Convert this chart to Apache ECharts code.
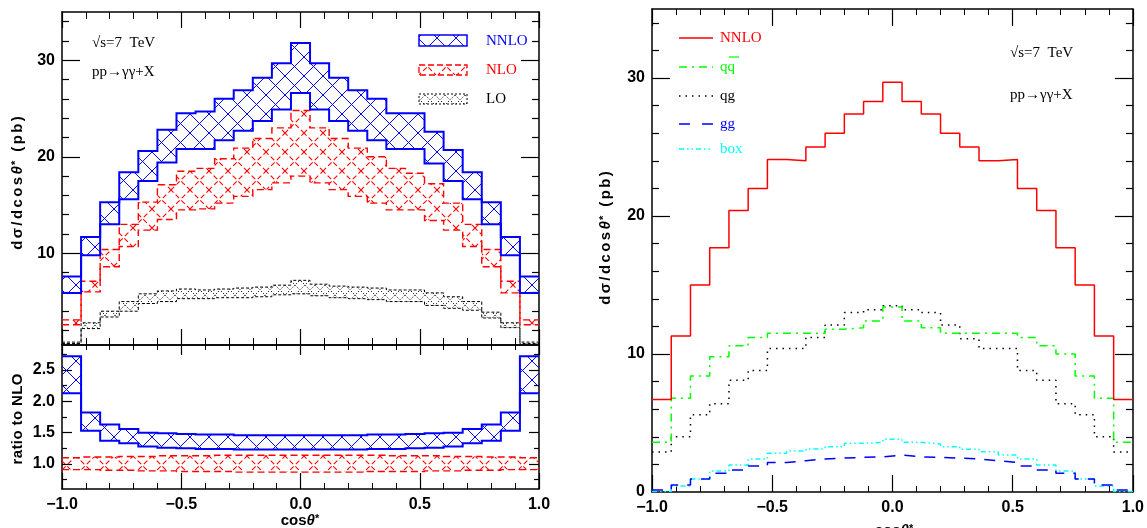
<!DOCTYPE html>
<html>
<head>
<meta charset="utf-8">
<script src="https://cdn.jsdelivr.net/npm/echarts@6/dist/echarts.min.js"></script>
<style>
  html, body { margin: 0; padding: 0; background: #fff; }
  #chart { width: 1147px; height: 528px; }
</style>
</head>
<body>
<div id="chart"></div>
<script>
// Bin edges in cos(theta*), 25 bins of width 0.08
const binEdges = [-1.0, -0.92, -0.84, -0.76, -0.68, -0.60, -0.52, -0.44, -0.36, -0.28, -0.20, -0.12, -0.04,
                  0.04, 0.12, 0.20, 0.28, 0.36, 0.44, 0.52, 0.60, 0.68, 0.76, 0.84, 0.92, 1.0];

// Scale-variation bands, d sigma / d cos theta* (pb)
const nnloHi = [7.6, 11.7, 15.3, 18.4, 20.6, 22.8, 24.5, 24.7, 26.0, 26.9, 28.2, 29.7, 31.8, 29.7, 28.2, 26.9, 26.0, 24.5, 24.5, 22.6, 20.7, 18.4, 15.3, 11.7, 7.6];
const nnloLo = [5.9, 9.8, 13.0, 15.6, 17.5, 19.4, 20.8, 20.8, 21.7, 22.7, 23.7, 24.9, 26.6, 24.9, 23.7, 22.7, 21.7, 20.8, 20.8, 19.3, 17.5, 15.6, 13.0, 9.8, 5.9];
const nloHi  = [3.1, 7.1, 10.4, 13.0, 15.3, 17.1, 18.5, 18.8, 19.8, 20.9, 21.9, 23.0, 24.8, 23.0, 21.9, 20.9, 20.0, 18.8, 18.3, 17.2, 15.2, 13.0, 10.4, 7.1, 3.1];
const nloLo  = [2.6, 6.0, 8.6, 10.7, 12.4, 13.5, 14.5, 14.6, 15.2, 15.9, 16.6, 17.3, 18.0, 17.3, 16.6, 15.9, 15.2, 14.5, 14.5, 13.4, 12.4, 10.7, 8.6, 5.9, 2.6];
const loHi   = [0.8, 2.8, 4.0, 5.0, 5.8, 6.1, 6.3, 6.2, 6.3, 6.4, 6.5, 6.7, 7.2, 6.8, 6.6, 6.5, 6.4, 6.2, 6.2, 5.9, 5.5, 5.0, 3.9, 2.8, 0.8];
const loLo   = [0.65, 2.2, 3.4, 4.0, 4.8, 5.0, 5.3, 5.3, 5.4, 5.4, 5.5, 5.7, 5.8, 5.6, 5.4, 5.3, 5.2, 5.0, 5.0, 4.6, 4.3, 4.1, 3.3, 2.3, 0.65];

// Ratio to NLO
const ratioNnloHi = [2.72, 1.82, 1.63, 1.56, 1.50, 1.49, 1.48, 1.47, 1.47, 1.46, 1.46, 1.46, 1.46, 1.46, 1.46, 1.46, 1.47, 1.47, 1.48, 1.49, 1.50, 1.56, 1.63, 1.82, 2.72];
const ratioNnloLo = [2.13, 1.53, 1.37, 1.33, 1.28, 1.26, 1.25, 1.24, 1.24, 1.23, 1.23, 1.23, 1.23, 1.23, 1.23, 1.23, 1.24, 1.24, 1.25, 1.26, 1.28, 1.33, 1.37, 1.53, 2.13];
const ratioNloHi  = [1.10, 1.11, 1.11, 1.12, 1.12, 1.13, 1.13, 1.13, 1.14, 1.14, 1.14, 1.14, 1.14, 1.14, 1.14, 1.14, 1.14, 1.13, 1.13, 1.13, 1.12, 1.12, 1.11, 1.11, 1.10];
const ratioNloLo  = [0.91, 0.91, 0.90, 0.90, 0.89, 0.89, 0.88, 0.88, 0.88, 0.87, 0.87, 0.87, 0.87, 0.87, 0.87, 0.87, 0.88, 0.88, 0.88, 0.89, 0.89, 0.90, 0.90, 0.91, 0.91];

// Partonic channels at NNLO
const chNNLO  = [6.7, 11.3, 15.0, 17.7, 20.4, 22.0, 24.1, 24.0, 25.0, 26.0, 27.4, 28.3, 29.7, 28.3, 27.4, 26.0, 25.0, 24.0, 24.1, 22.0, 20.4, 17.7, 15.0, 11.3, 6.7];
const chQQbar = [3.6, 6.8, 8.4, 9.8, 10.6, 11.2, 11.5, 11.5, 11.5, 11.8, 11.9, 12.4, 13.4, 12.4, 11.9, 11.5, 11.5, 11.5, 11.5, 11.2, 10.6, 10.0, 8.4, 6.8, 3.6];
const chQG    = [2.9, 4.0, 5.6, 6.4, 8.1, 8.8, 10.4, 10.4, 11.2, 12.1, 13.0, 13.2, 13.5, 13.2, 13.0, 12.1, 11.1, 10.4, 10.4, 8.8, 8.1, 6.4, 5.6, 4.0, 2.9];
const chGG    = [0.15, 0.5, 0.95, 1.35, 1.6, 1.88, 2.13, 2.27, 2.39, 2.46, 2.51, 2.55, 2.68, 2.55, 2.51, 2.46, 2.39, 2.27, 2.13, 1.88, 1.6, 1.35, 0.95, 0.5, 0.15];
const chBox   = [0.03, 0.43, 0.94, 1.52, 1.96, 2.39, 2.8, 2.97, 3.12, 3.28, 3.53, 3.6, 3.82, 3.6, 3.48, 3.28, 3.09, 2.92, 2.68, 2.39, 1.96, 1.52, 0.94, 0.43, 0.03];

// Tick positions and labels
const sigmaMajorTicks = [10, 20, 30];
const sigmaMinorTicks = [2, 4, 6, 8, 12, 14, 16, 18, 22, 24, 26, 28, 32, 34];
const sigmaLabelsLeft = [10, 20, 30];
const sigmaLabelsRight = [0, 10, 20, 30];
const ratioMajorTicks = [1.0, 1.5, 2.0, 2.5];
const ratioMinorTicks = [0.75, 1.25, 1.75, 2.25, 2.75];

const SANS = "'Liberation Sans', Arial, sans-serif";
const SERIF = "'Liberation Serif', 'DejaVu Serif', serif";

// Cross-hatch tiles for the filled bands
function hatch(size, color, dash, lw) {
  const c = document.createElement('canvas');
  c.width = size; c.height = size;
  const g = c.getContext('2d');
  g.strokeStyle = color; g.lineWidth = lw; g.setLineDash(dash);
  g.beginPath();
  g.moveTo(-1, -1); g.lineTo(size + 1, size + 1);
  g.moveTo(size + 1, -1); g.lineTo(-1, size + 1);
  g.stroke();
  return { image: c, repeat: 'repeat' };
}
const patNNLO = hatch(19, '#0000ff', [], 1);
const patNLO = hatch(19, '#ff0000', [5, 3], 1.1);
const patLO = hatch(10, '#000000', [1.2, 1.8], 1);

function band(lo, hi, pat, color, dash, width, xi, yi) {
  return {
    type: 'custom', xAxisIndex: xi, yAxisIndex: yi, silent: true, clip: true,
    data: [[binEdges[0], lo[0]]],
    renderItem: function (params, api) {
      const top = [], bot = [];
      for (let i = 0; i < lo.length; i++) {
        top.push(api.coord([binEdges[i], hi[i]]), api.coord([binEdges[i + 1], hi[i]]));
        bot.push(api.coord([binEdges[i], lo[i]]), api.coord([binEdges[i + 1], lo[i]]));
      }
      const ring = top.concat(bot.slice().reverse());
      return {
        type: 'group', children: [
          { type: 'polygon', shape: { points: ring }, style: { fill: pat, stroke: null } },
          { type: 'polyline', shape: { points: top }, style: { fill: null, stroke: color, lineWidth: width, lineDash: dash } },
          { type: 'polyline', shape: { points: bot }, style: { fill: null, stroke: color, lineWidth: width, lineDash: dash } }
        ]
      };
    }
  };
}

function stepData(vals) {
  const d = vals.map((v, i) => [binEdges[i], v]);
  d.push([binEdges[binEdges.length - 1], vals[vals.length - 1]]);
  return d;
}
function stepLine(name, vals, color, dash) {
  return {
    type: 'line', name: name, xAxisIndex: 4, yAxisIndex: 8, step: 'end', symbol: 'none',
    data: stepData(vals), silent: true,
    lineStyle: { color: color, width: 1.5, type: dash }
  };
}

const minus = v => v.toFixed(1).replace('-', '\u2212');

function xAx(grid, pos, showLabel, major, minor) {
  return {
    type: 'value', gridIndex: grid, position: pos, min: -1, max: 1, interval: 0.5,
    axisLine: { show: true, onZero: false, lineStyle: { color: '#000', width: 1.5 } },
    axisTick: { show: true, inside: true, length: major, lineStyle: { color: '#000', width: 1.2 } },
    minorTick: { show: true, splitNumber: 5, length: minor, lineStyle: { color: '#000', width: 1 } },
    axisLabel: { show: showLabel, margin: 8, fontSize: 16, fontWeight: 'bold', fontFamily: SANS, color: '#000', formatter: minus },
    splitLine: { show: false }, minorSplitLine: { show: false }
  };
}
function yAx(grid, pos, min, max, ticks, len, labels, fmt, showLine) {
  return {
    type: 'value', gridIndex: grid, position: pos, min: min, max: max,
    axisLine: { show: showLine, onZero: false, lineStyle: { color: '#000', width: 1.5 } },
    axisTick: { show: true, inside: true, length: len, customValues: ticks, lineStyle: { color: '#000', width: 1.2 } },
    axisLabel: labels ? { show: true, customValues: labels, margin: 7, fontSize: 16, fontWeight: 'bold', fontFamily: SANS, color: '#000', formatter: fmt }
                      : { show: false },
    splitLine: { show: false }
  };
}
const intFmt = v => String(Math.round(v));
const oneDec = v => v.toFixed(1);

// Axis titles, one rich token per glyph so the spacing can be opened up
function spaced(str) {
  return str.split('').map(ch => ch === 'θ' ? '{i|θ}' : (ch === '*' ? '{s|*}' : '{c|' + ch + '}')).join('');
}
function richSet(pad, size) {
  return {
    c: { fontSize: size, fontFamily: SANS, fontWeight: 'bold', color: '#000', padding: [0, pad] },
    i: { fontSize: size, fontFamily: SANS, fontWeight: 'bold', fontStyle: 'italic', color: '#000', padding: [0, pad] },
    s: { fontSize: 11, fontFamily: SANS, fontWeight: 'bold', color: '#000', verticalAlign: 'top', padding: [0, pad, 0, 0] }
  };
}
function title(x, y, str, pad, size, rot) {
  return {
    type: 'text', x: x, y: y, rotation: rot, silent: true,
    style: { text: spaced(str), rich: richSet(pad, size), align: 'center', verticalAlign: 'middle' }
  };
}
function label(x, y, text, color, size) {
  return { type: 'text', x: x, y: y, silent: true,
    style: { text: text, fill: color, font: size + 'px ' + SERIF, align: 'left', verticalAlign: 'middle' } };
}

const graphics = [
  title(18, 183, 'dσ/dcosθ* (pb)', 1.2, 15, Math.PI / 2),
  title(18, 419, 'ratio to NLO', 0.2, 15, Math.PI / 2),
  title(300, 521, 'cosθ*', 0, 15, 0),
  title(606, 238, 'dσ/dcosθ* (pb)', 1.2, 15, Math.PI / 2),
  title(894, 531, 'cosθ*', 0, 15, 0),

  label(92, 43, '\u221As=7  TeV', '#000', 15),
  label(92, 72, 'pp\u2192\u03B3\u03B3+X', '#000', 15),
  label(1010, 53, '\u221As=7  TeV', '#000', 15),
  label(1010, 95, 'pp\u2192\u03B3\u03B3+X', '#000', 15),

  // band legend
  { type: 'rect', silent: true, shape: { x: 419, y: 35, width: 48, height: 11 }, style: { fill: patNNLO, stroke: '#0000ff', lineWidth: 1.5 } },
  { type: 'rect', silent: true, shape: { x: 419, y: 65, width: 48, height: 10 }, style: { fill: patNLO, stroke: '#ff0000', lineWidth: 1.3, lineDash: [6, 3] } },
  { type: 'rect', silent: true, shape: { x: 419, y: 94, width: 48, height: 10 }, style: { fill: patLO, stroke: '#000', lineWidth: 1, lineDash: [2, 2] } },
  label(486, 41, 'NNLO', '#0000ff', 15),
  label(486, 70, 'NLO', '#ff0000', 15),
  label(486, 99, 'LO', '#000', 15),

  // channel legend
  { type: 'line', silent: true, shape: { x1: 679, y1: 38, x2: 713, y2: 38 }, style: { stroke: '#ff0000', lineWidth: 1.5 } },
  { type: 'line', silent: true, shape: { x1: 679, y1: 67, x2: 713, y2: 67 }, style: { stroke: '#00ff00', lineWidth: 1.5, lineDash: [8, 5, 2, 5] } },
  { type: 'line', silent: true, shape: { x1: 679, y1: 96, x2: 713, y2: 96 }, style: { stroke: '#000', lineWidth: 1.5, lineDash: [1.5, 5] } },
  { type: 'line', silent: true, shape: { x1: 679, y1: 124, x2: 713, y2: 124 }, style: { stroke: '#0000ff', lineWidth: 1.5, lineDash: [11, 12] } },
  { type: 'line', silent: true, shape: { x1: 679, y1: 149, x2: 713, y2: 149 }, style: { stroke: '#00ffff', lineWidth: 1.5, lineDash: [5, 3, 1.5, 3, 1.5, 3] } },
  label(720, 38, 'NNLO', '#ff0000', 15),
  label(720, 67, 'qq', '#00ff00', 15),
  { type: 'line', silent: true, shape: { x1: 729, y1: 57, x2: 739, y2: 57 }, style: { stroke: '#00ff00', lineWidth: 1.2 } },
  label(720, 96, 'qg', '#000', 15),
  label(720, 124, 'gg', '#0000ff', 15),
  label(720, 149, 'box', '#00ffff', 15)
];

const option = {
  animation: false,
  backgroundColor: '#fff',
  grid: [
    { left: 62, top: 12, width: 477, height: 333 },
    { left: 62, top: 345, width: 477, height: 144 },
    { left: 652, top: 9, width: 484, height: 483 }
  ],
  xAxis: [
    xAx(0, 'bottom', false, 16, 7), xAx(0, 'top', false, 16, 7),
    xAx(1, 'bottom', true, 16, 6), xAx(1, 'top', false, 10, 5),
    xAx(2, 'bottom', true, 17, 6), xAx(2, 'top', false, 17, 6)
  ],
  yAxis: [
    yAx(0, 'left', 0.5, 35, sigmaMajorTicks, 18, sigmaLabelsLeft, intFmt, true),
    yAx(0, 'left', 0.5, 35, sigmaMinorTicks, 7, null, null, false),
    yAx(0, 'right', 0.5, 35, sigmaMajorTicks, 18, null, null, true),
    yAx(0, 'right', 0.5, 35, sigmaMinorTicks, 7, null, null, false),

    yAx(1, 'left', 0.6, 2.9, ratioMajorTicks, 10, ratioMajorTicks, oneDec, true),
    yAx(1, 'left', 0.6, 2.9, ratioMinorTicks, 5, null, null, false),
    yAx(1, 'right', 0.6, 2.9, ratioMajorTicks, 10, null, null, true),
    yAx(1, 'right', 0.6, 2.9, ratioMinorTicks, 5, null, null, false),

    yAx(2, 'left', 0, 35, sigmaMajorTicks, 18, sigmaLabelsRight, intFmt, true),
    yAx(2, 'left', 0, 35, sigmaMinorTicks, 7, null, null, false),
    yAx(2, 'right', 0, 35, sigmaMajorTicks, 18, null, null, true),
    yAx(2, 'right', 0, 35, sigmaMinorTicks, 7, null, null, false)
  ],
  series: [
    band(loLo, loHi, patLO, '#000000', [3, 2], 1, 0, 0),
    band(nloLo, nloHi, patNLO, '#ff0000', [7, 4], 1.4, 0, 0),
    band(nnloLo, nnloHi, patNNLO, '#0000ff', [], 2, 0, 0),

    band(ratioNloLo, ratioNloHi, patNLO, '#ff0000', [7, 4], 1.4, 2, 4),
    band(ratioNnloLo, ratioNnloHi, patNNLO, '#0000ff', [], 2, 2, 4),

    stepLine('box', chBox, '#00ffff', [5, 3, 1.5, 3, 1.5, 3]),
    stepLine('gg', chGG, '#0000ff', [11, 9]),
    stepLine('qg', chQG, '#000000', [1.5, 5]),
    stepLine('qqbar', chQQbar, '#00ff00', [8, 5, 2, 5]),
    stepLine('NNLO', chNNLO, '#ff0000', 'solid')
  ],
  graphic: graphics
};

const chart = echarts.init(document.getElementById('chart'), null, { renderer: 'canvas' });
chart.setOption(option);
</script>
</body>
</html>
